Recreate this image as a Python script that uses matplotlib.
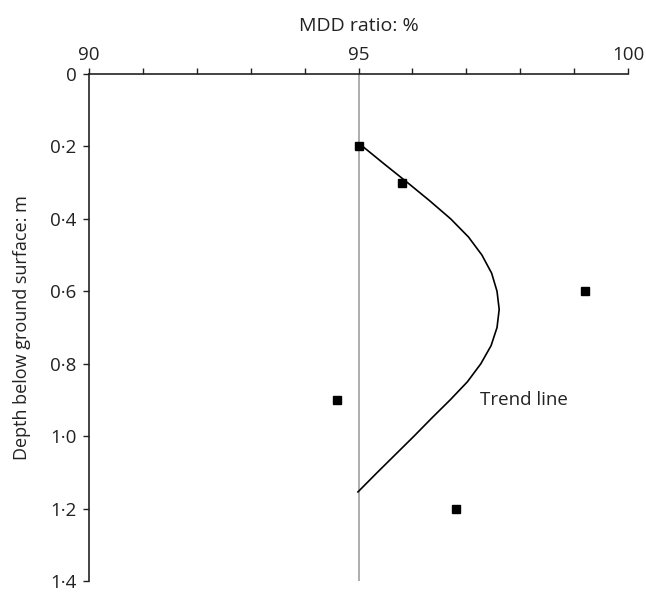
import matplotlib
matplotlib.use("Agg")
import matplotlib.pyplot as plt
from matplotlib.ticker import MultipleLocator, FixedLocator

plt.rcParams['font.family'] = ['Open Sans', 'DejaVu Sans']

# measured points: MDD ratio (%) against depth (m)
depth = [0.2, 0.3, 0.6, 0.9, 1.2]
mdd = [95.0, 95.8, 99.2, 94.6, 96.8]

# trend line
trend_depth = [0.193, 0.25, 0.30, 0.35, 0.40, 0.45, 0.50, 0.55, 0.60, 0.65,
               0.70, 0.75, 0.80, 0.85, 0.90, 0.95, 1.00, 1.05, 1.10, 1.154]
trend_mdd = [95.02, 95.49, 95.91, 96.32, 96.71, 97.04, 97.29, 97.47, 97.57, 97.61,
             97.57, 97.46, 97.27, 97.02, 96.70, 96.36, 96.03, 95.69, 95.35, 94.99]

y_ticks = [0, 0.2, 0.4, 0.6, 0.8, 1.0, 1.2, 1.4]
y_labels = ["0", "0·2", "0·4", "0·6", "0·8", "1·0", "1·2", "1·4"]
x_ticks = [90, 95, 100]

fig = plt.figure(figsize=(6.46, 5.92), dpi=100)
ax = fig.add_axes([89 / 646, 1 - 581 / 592, (628 - 89) / 646, (581 - 74) / 592])

ax.axvline(95, color="#a0a0a0", lw=1.2, zorder=1)
ax.plot(trend_mdd, trend_depth, color="black", lw=1.2, zorder=2)
ax.plot(mdd, depth, ls="none", marker="s", ms=6, color="black", zorder=3)
ax.text(97.26, 0.90, "Trend line", fontsize=13.5, va="center", ha="left",
        color="#222222")

ax.set_xlim(90, 100)
ax.set_ylim(1.4, 0)
ax.xaxis.set_ticks_position("top")
ax.xaxis.set_label_position("top")
ax.xaxis.set_major_locator(FixedLocator(x_ticks))
ax.xaxis.set_minor_locator(MultipleLocator(1))
ax.set_yticks(y_ticks)
ax.set_yticklabels(y_labels)

for side in ["right", "bottom"]:
    ax.spines[side].set_visible(False)
for side in ["top", "left"]:
    ax.spines[side].set_linewidth(1.2)
    ax.spines[side].set_color("#222222")

ax.tick_params(axis="x", which="both", direction="out", length=4, width=1,
               labelsize=13.5, pad=3, colors="#222222")
ax.tick_params(axis="y", direction="out", length=4, width=1,
               labelsize=13.5, pad=5, colors="#222222")
for lab in ax.get_yticklabels():
    lab.set_verticalalignment("center_baseline")

ax.set_xlabel("MDD ratio: %", fontsize=14, labelpad=11, color="#222222")
ax.set_ylabel("Depth below ground surface: m", fontsize=13, labelpad=14,
              color="#222222")

fig.savefig("out.png", dpi=100)
